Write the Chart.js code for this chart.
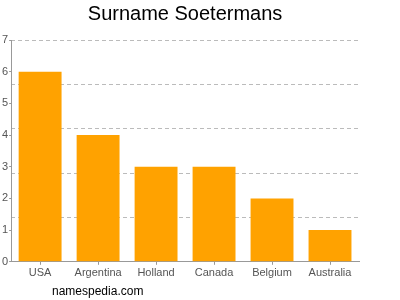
<!DOCTYPE html>
<html><head><meta charset="utf-8">
<script src="https://cdn.jsdelivr.net/npm/chart.js@4/dist/chart.umd.min.js"></script>
<style>
html,body{margin:0;padding:0;background:#fff;}
#wrap{position:relative;width:400px;height:300px;}
#wm{position:absolute;left:52px;top:284px;font:12px "Liberation Sans",Arial,sans-serif;color:#000;}
</style></head><body>
<div id="wrap"><canvas id="c" width="400" height="300"></canvas><div id="wm">namespedia.com</div></div>
<script>
const categories = ["USA","Argentina","Holland","Canada","Belgium","Australia"];
const counts = [6,4,3,3,2,1];
const yTickLabels = [0,1,2,3,4,5,6,7];
const gridValues = [0,1.4,2.8,4.2,5.6,7];
const titleText = "Surname Soetermans";

const FONT = '"Liberation Sans", Arial, sans-serif';
new Chart(document.getElementById('c'), {
  type: 'bar',
  data: { labels: categories, datasets: [{ data: counts, backgroundColor: '#ffa200', borderWidth: 0, barPercentage: 0.74, categoryPercentage: 1 }] },
  options: {
    responsive: false, animation: false, devicePixelRatio: 1,
    layout: { padding: { left: 1, right: 41, top: 0, bottom: 18 } },
    plugins: {
      legend: { display: false }, tooltip: { enabled: false },
      title: { display: true, fullSize: false, text: titleText, color: '#000', font: { family: FONT, size: 20, weight: 'normal' }, padding: { top: 2, bottom: 14 } }
    },
    scales: {
      x: {
        grid: { display: true, drawOnChartArea: false, tickLength: 3, offset: false, color: '#999' },
        border: { color: '#999' },
        ticks: { color: '#555', font: { family: FONT, size: 11 }, padding: 2, maxRotation: 0 }
      },
      y: {
        min: 0, max: 7,
        afterBuildTicks: s => { s.ticks = yTickLabels.map(v => ({ value: v })); },
        grid: { display: true, drawOnChartArea: false, tickLength: 2, color: '#999' },
        border: { color: '#999' },
        ticks: { color: '#555', font: { family: FONT, size: 11 }, padding: 1 }
      },
      g: {
        position: 'left', min: 0, max: 7,
        afterBuildTicks: s => { s.ticks = gridValues.map(v => ({ value: v })); },
        afterFit: s => { s.width = 0; },
        grid: { color: '#bbb', drawTicks: false },
        border: { display: false, dash: [4, 3] },
        ticks: { display: false }
      }
    }
  }
});
</script></body></html>
